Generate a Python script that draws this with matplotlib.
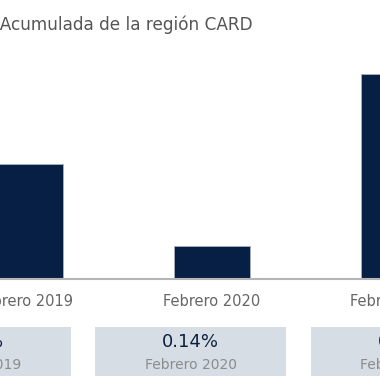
import matplotlib.pyplot as plt
import numpy as np

plt.rcParams['font.family'] = ['DejaVu Sans']

title = 'Inflación Acumulada de la región CARD'
periods = ['Febrero 2019', 'Febrero 2020', 'Febrero 2021']
values = [0.49, 0.14, 0.87]
value_labels = ['0.49%', '0.14%', '0.87%']

navy = '#071f45'
box_color = '#d6dde5'

fig = plt.figure(figsize=(3.8, 3.8), dpi=100)

# bar panel: baseline at y=279px, bar centres at 25px + 187px steps
ax = fig.add_axes([0, 101 / 380, 1, 219 / 380])
x = np.arange(len(periods))
ax.bar(x, values, width=0.406, color=navy, edgecolor='#a4acbb', linewidth=0.7)
ax.set_xlim(-25 / 187, 355 / 187)
ax.set_ylim(0, 0.93)
ax.set_xticks([])
ax.set_yticks([])
# category labels drawn as annotations so the one past the right edge still shows
for i in range(len(x)):
    ax.annotate(periods[i], xy=(x[i], 0), xytext=(0, -16), textcoords='offset points',
                ha='center', va='center', fontsize=10.5, color='#666666',
                annotation_clip=False)
for s in ['top', 'left', 'right']:
    ax.spines[s].set_visible(False)
ax.spines['bottom'].set_color('#b5b5b5')
ax.spines['bottom'].set_linewidth(1.5)

# summary boxes under the chart
bx = fig.add_axes([0, 4 / 380, 1, 49 / 380])
bx.bar(x, [1] * len(x), width=191 / 215.5, color=box_color)
bx.set_xlim(25 / 215.5, 405 / 215.5)
bx.set_ylim(0, 1)
for i in range(len(x)):
    bx.text(x[i], 0.69, value_labels[i], ha='center', va='center',
            fontsize=13, color='#0d2240')
    bx.text(x[i], 0.22, periods[i], ha='center', va='center',
            fontsize=10, color='#8c8c8c')
bx.axis('off')

fig.text(253 / 380, 1 - 25 / 380, title, ha='right', va='center',
         fontsize=12.2, color='#555555')

plt.savefig('out.png')
